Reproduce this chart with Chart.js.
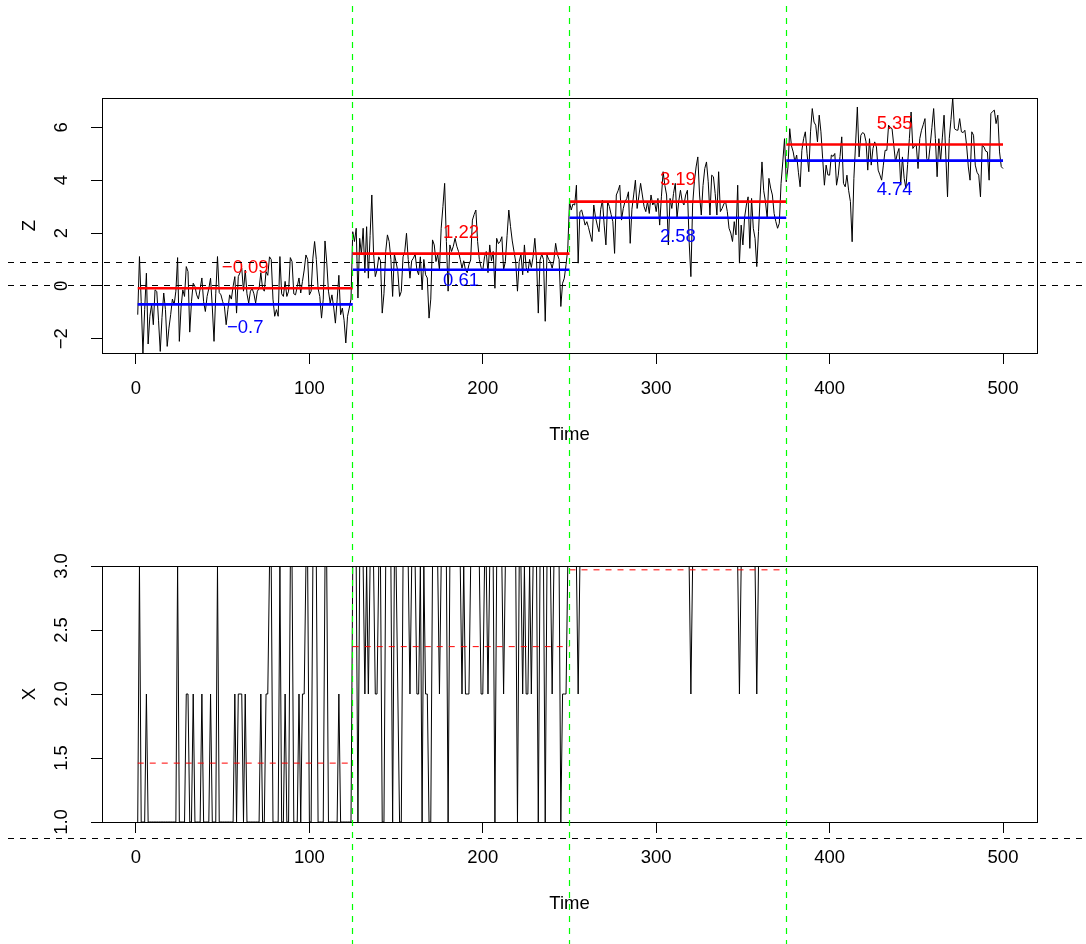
<!DOCTYPE html>
<html>
<head>
<meta charset="utf-8">
<title>Z and X over time</title>
<script src="https://cdn.jsdelivr.net/npm/chart.js@4.4.1/dist/chart.umd.min.js"></script>
<style>
  body { margin: 0; background: #fff; }
  #wrap { position: relative; width: 1086px; height: 944px; background: #fff; }
  canvas { position: absolute; left: 0; }
  #zChart { top: 0; }
  #xChart { top: 472px; }
</style>
</head>
<body>
<div id="wrap">
  <canvas id="zChart" width="1086" height="472"></canvas>
  <canvas id="xChart" width="1086" height="472"></canvas>
</div>
<script>
let zChart;
let xChart;

// -----------------------------
// DATA
// -----------------------------
const zValues = [
  -1.09, 1.11, -0.6, -2.54, -0.9, 0.48, -2.2, -1.15, -0.7, -1.47,
  -0.15, -0.21, -1.3, -2.48, -1.2, -0.27, -0.9, -2.29, -1.6, -1.09,
  -0.5, -0.71, -0.2, 1.07, -2.1, -0.8, -0.15, -0.4, 0.73, 0.54,
  -1.75, -0.6, 0.1, -0.02, -0.34, -0.5, -0.11, 0.3, -0.6, -0.97,
  -0.4, -0.1, 0.29, -0.8, -2.1, -0.3, 1.11, -0.25, -0.34, -0.6,
  -0.78, -1.47, -0.9, -0.34, -0.5, -0.02, 0.35, -1.03, 0.35, 0.5,
  0.67, -0.2, 0.6, -0.3, -0.65, -0.2, -0.1, -0.3, -0.65, -0.2,
  -0.1, 0.5, -0.09, -0.2, 0.54, 0.4, 1.1, 1.0, -0.5, -1.15,
  -0.9, -1.15, 1.11, -0.3, -0.4, 0.17, -0.4, -0.2, 1.07, 0.92,
  -0.3, -0.34, -0.02, 0.3, -0.27, 0.17, 0.6, 1.17, 1.0, -0.34,
  -0.2, 1.05, 1.68, 1.0, -0.1, -0.4, -1.22, -0.5, 1.7, 0.9,
  -0.2, -0.65, -0.34, -0.8, -1.41, -0.53, 0.4, -1.09, -0.84, -1.3,
  -2.16, -1.15, -0.84, -0.5,
  2.05, 1.68, 2.18, -0.46, 1.8, 1.2,
  2.18, 0.5, 2.24, 0.29, 1.9, 3.44, 1.24, 0.35, 0.6, 1.1,
  0.95, -1.03, -0.3, 1.3, 1.93, 1.68, 1.0, -0.4, 1.2, 0.9,
  0.54, -0.4, -0.21, 1.1, 1.3, 1.99, 1.0, 0.29, 0.95, 1.05,
  1.2, 0.6, 0.42, 1.1, -0.15, 1.0, 0.42, 0.3, -1.22, -0.5,
  1.74, 1.55, 0.92, 1.2, 0.6, 2.18, 3.0, 3.88, 1.68, -0.2,
  1.55, 1.3, 1.5, 1.8, 1.5, 1.3, 1.0, 0.67, 0.95, 0.6,
  0.5, 0.8, 0.98, 2.49, 2.7, 2.87, 1.68, 1.0, 0.7, 0.6,
  1.1, 1.3, 0.5, 1.55, 0.95, 1.3, -0.09, 1.8, 1.6, 1.68,
  1.86, 0.6, 0.92, 1.9, 2.87, 2.24, 1.7, 1.3, 0.9, -0.2,
  0.92, 1.2, 0.42, 1.55, 0.7, 0.5, 1.0, 0.7, 1.1, 1.8,
  0.95, -1.03, 0.98, 1.2, 1.0, -1.34, 1.17, 1.0, 0.9, 0.67,
  0.98, 1.61, 1.2, 1.0, -0.78, 0.1, 0.29, 0.8, 1.4,
  3.19, 2.87, 3.1, 3.06, 3.81, 0.86, 2.81, 2.87, 2.6, 2.3,
  2.43, 2.2, 1.93, 1.68, 3.06, 2.6, 2.3, 2.05, 2.9, 3.25,
  2.3, 1.55, 3.19, 3.0, 2.7, 2.43, 1.23, 3.44, 3.6, 3.81,
  2.49, 2.93, 3.19, 3.3, 3.56, 1.61, 2.9, 3.44, 4.0, 2.93,
  3.4, 3.88, 3.44, 3.0, 2.81, 3.19, 2.74, 3.44, 3.06, 3.2,
  2.81, 3.31, 2.3, 3.37, 4.32, 3.8, 3.44, 1.55, 3.31, 2.93,
  3.5, 3.88, 2.56, 3.2, 3.62, 3.19, 3.06, 3.44, 3.62, 1.68,
  0.35, 3.06, 3.94, 4.5, 4.88, 3.44, 2.68, 3.8, 4.44, 4.69,
  3.94, 2.68, 4.19, 4.13, 3.5, 2.68, 4.32, 2.81, 2.93, 3.1,
  3.19, 2.81, 2.18, 2.0, 1.68, 2.43, 1.93, 3.81, 0.86, 2.3,
  1.55, 2.6, 3.06, 3.37, 1.42, 3.31, 2.18, 1.8, 0.73, 2.05,
  3.44, 4.69, 3.6, 3.19, 2.56, 4.07, 3.7, 3.44, 2.74, 2.43,
  2.18, 2.37, 3.88, 4.69, 5.57,
  3.94, 4.5, 5.95, 5.3, 5.07, 4.69, 4.95, 4.3, 3.75, 5.13,
  5.57, 5.83, 5.0, 4.32, 5.83, 6.71, 6.2, 6.08, 5.45, 6.46,
  5.83, 4.82, 3.81, 4.57, 4.2, 4.19, 4.95, 4.9, 5.01, 3.81,
  4.19, 4.9, 5.64, 3.88, 3.75, 4.19, 3.6, 3.19, 1.67, 4.07,
  5.4, 6.77, 4.88, 5.7, 5.8, 5.76, 5.45, 4.38, 5.57, 4.57,
  5.2, 5.45, 5.26, 4.38, 4.2, 4.0, 4.57, 5.13, 5.13, 6.08,
  6.0, 5.95, 5.32, 4.69, 5.0, 5.2, 3.81, 4.88, 4.07, 3.69,
  4.6, 5.57, 6.58, 5.2, 5.3, 5.32, 4.44, 5.57, 5.89, 6.1,
  6.33, 4.82, 4.69, 5.32, 6.0, 6.71, 5.57, 4.13, 5.57, 4.69,
  5.6, 6.46, 4.95, 3.37, 5.57, 6.3, 7.11, 5.95, 5.9, 5.89,
  6.33, 5.83, 5.8, 5.89, 5.32, 4.5, 4.0, 5.83, 5.7, 4.57,
  4.3, 4.19, 3.37, 5.32, 5.26, 5.1, 5.07, 4.0, 6.52, 6.6,
  6.65, 6.14, 6.46, 5.07, 4.51, 4.44
];

const xStates = [
  1,3,1,1,1,2,1,1,1,1,1,1,1,1,1,1,1,1,1,1,1,1,1,3,1,
  1,1,1,2,2,1,1,2,1,1,1,1,2,1,1,1,1,2,1,1,1,3,1,1,1,
  1,1,1,1,1,1,2,1,2,2,2,1,2,1,1,1,1,1,1,1,1,2,1,1,2,
  2,3,3,1,1,1,1,3,1,1,2,1,1,3,3,1,1,1,2,1,2,2,3,3,1,
  1,3,3,3,1,1,1,1,3,3,1,1,1,1,1,1,2,1,1,1,1,1,1,1,3,
  3,3,1,3,3,3,2,3,2,3,3,3,2,2,3,3,1,1,3,3,3,3,1,3,3,
  2,1,1,3,3,3,3,2,3,3,3,2,2,3,1,3,2,2,1,1,3,3,3,3,2,
  3,3,3,3,1,3,3,3,3,3,3,3,2,3,2,2,2,3,3,3,3,3,3,2,2,
  3,3,2,3,3,3,1,3,3,3,3,2,3,3,3,3,3,3,3,1,3,3,2,3,2,
  2,3,2,3,3,3,1,3,3,3,1,3,3,3,2,3,3,3,3,1,2,2,2,3,3,
  3,3,3,3,2,3,3,3,3,3,3,3,3,3,3,3,3,3,3,3,3,3,3,3,3,
  3,3,3,3,3,3,3,3,3,3,3,3,3,3,3,3,3,3,3,3,3,3,3,3,3,
  3,3,3,3,3,3,3,3,3,3,3,3,3,3,3,3,3,3,3,2,3,3,3,3,3,
  3,3,3,3,3,3,3,3,3,3,3,3,3,3,3,3,3,3,3,3,3,3,2,3,3,
  3,3,3,3,3,3,3,2,3,3,3,3,3,3,3,3,3,3,3,3,3,3,3,3,3,
  3,3,3,3,3,3,3,3,3,3,3,3,3,3,3,3,3,3,3,3,3,3,3,3,3,
  3,3,3,3,3,3,3,3,3,3,3,3,3,3,3,3,3,3,3,3,3,3,3,3,3,
  3,3,3,3,3,3,3,3,3,3,3,3,3,3,3,3,3,3,3,3,3,3,3,3,3,
  3,3,3,3,3,3,3,3,3,3,3,3,3,3,3,3,3,3,3,3,3,3,3,3,3,
  3,3,3,3,3,3,3,3,3,3,3,3,3,3,3,3,3,3,3,3,3,3,3,3,3
];

const timeSteps = zValues.map((_, i) => i + 1);

// regimes: start / end time and per-regime levels
const segStart = [1, 125, 250, 375];
const segEnd = [125, 250, 375, 500];
const zMeanRed = [-0.09, 1.22, 3.19, 5.35];
const zMeanBlue = [-0.7, 0.61, 2.58, 4.74];
const xMean = [1.46, 2.37, 2.97, 3.0];

// reference lines
const hLines = [0, 0.87];
const vLines = [125, 250, 375];

// tick labels
const timeTicks = [0, 100, 200, 300, 400, 500];
const zTicks = [-2, 0, 2, 4, 6];
const xTicks = [1.0, 1.5, 2.0, 2.5, 3.0];

// where the level labels sit, in Z units from their line
const redLift = [0.76, 0.78, 0.81, 0.79];
const blueDrop = [0.9, 0.44, 0.72, 1.09];


// -----------------------------
// HELPERS
// -----------------------------
const FONT = '18.5px "Liberation Sans", Arial, sans-serif';
const GREEN = 'rgb(0, 255, 0)';

function minus(v) {
    return String(v).replace('-', '\u2212');
}

function toPoints(xs, ys) {
    return xs.map((x, i) => ({ x: x, y: ys[i] }));
}

// one flat piece per regime, broken by nulls
function levelPoints(levels) {
    const pts = [];
    levels.forEach((v, i) => {
        pts.push({ x: segStart[i], y: v });
        pts.push({ x: segEnd[i], y: v });
        pts.push({ x: segEnd[i], y: null });
    });
    return pts;
}

// crisp 1px position
function crisp(p) {
    return Math.floor(p) + 0.5;
}

// box, axes and ablines drawn in base-graphics style
function makeFrame(cfg) {
    return {
        id: 'frame_' + cfg.name,
        afterDraw(chart) {
            const ctx = chart.ctx;
            const a = chart.chartArea;
            const xs = chart.scales.x;
            const ys = chart.scales.y;
            const W = chart.width;
            const H = chart.height;

            ctx.save();
            ctx.strokeStyle = '#000';
            ctx.fillStyle = '#000';
            ctx.lineWidth = 1;
            ctx.setLineDash([]);

            // box
            ctx.strokeRect(Math.round(a.left) + 0.5, Math.round(a.top) + 0.5,
                Math.round(a.right - a.left), Math.round(a.bottom - a.top));

            // time axis
            ctx.beginPath();
            timeTicks.forEach(t => {
                const px = crisp(xs.getPixelForValue(t));
                ctx.moveTo(px, a.bottom);
                ctx.lineTo(px, a.bottom + 11);
            });
            ctx.stroke();

            ctx.font = FONT;
            ctx.textAlign = 'center';
            ctx.textBaseline = 'middle';
            timeTicks.forEach(t => {
                ctx.fillText(String(t), xs.getPixelForValue(t), a.bottom + 36);
            });
            ctx.fillText('Time', (a.left + a.right) / 2, a.bottom + 82);

            // value axis
            ctx.beginPath();
            cfg.ticks.forEach(v => {
                const py = crisp(ys.getPixelForValue(v));
                ctx.moveTo(a.left, py);
                ctx.lineTo(a.left - 11, py);
            });
            ctx.stroke();

            cfg.ticks.forEach(v => {
                ctx.save();
                ctx.translate(a.left - 40, ys.getPixelForValue(v));
                ctx.rotate(-Math.PI / 2);
                ctx.fillText(cfg.tickText(v), 0, 0);
                ctx.restore();
            });
            ctx.save();
            ctx.translate(30, (a.top + a.bottom) / 2);
            ctx.rotate(-Math.PI / 2);
            ctx.fillText(cfg.title, 0, 0);
            ctx.restore();

            // level labels
            if (cfg.levelLabels) {
                zMeanRed.forEach((v, i) => {
                    const mid = (segStart[i] + segEnd[i]) / 2;
                    ctx.fillStyle = '#ff0000';
                    ctx.fillText(minus(v), xs.getPixelForValue(mid), ys.getPixelForValue(v + redLift[i]));
                });
                zMeanBlue.forEach((v, i) => {
                    const mid = (segStart[i] + segEnd[i]) / 2;
                    ctx.fillStyle = '#0000ff';
                    ctx.fillText(minus(v), xs.getPixelForValue(mid), ys.getPixelForValue(v - blueDrop[i]));
                });
            }

            // horizontal thresholds, across the whole figure
            hLines.forEach(h => {
                const py = crisp(ys.getPixelForValue(h));
                if (py < 0 || py > H) return;
                ctx.strokeStyle = '#000000';
                ctx.setLineDash([6, 6]);
                ctx.beginPath();
                ctx.moveTo(8, py);
                ctx.lineTo(W, py);
                ctx.stroke();
            });

            // regime change points
            vLines.forEach(t => {
                const px = crisp(xs.getPixelForValue(t));
                ctx.strokeStyle = GREEN;
                ctx.lineWidth = 1.2;
                ctx.setLineDash([6, 6]);
                ctx.lineDashOffset = 0;
                ctx.beginPath();
                ctx.moveTo(px, cfg.guideTop);
                ctx.lineTo(px, H);
                ctx.stroke();
            });

            ctx.restore();
        }
    };
}

const baseOptions = {
    responsive: false,
    animation: false,
    events: [],
    plugins: { legend: { display: false }, tooltip: { enabled: false } },
    elements: { point: { radius: 0 }, line: { tension: 0 } }
};

const timeMin = -19.6;
const timeMax = 519.6;


// -----------------------------
// Z PANEL
// -----------------------------
zChart = new Chart(document.getElementById('zChart'), {
    type: 'line',
    data: {
        datasets: [
            { data: toPoints(timeSteps, zValues), borderColor: '#000000', borderWidth: 1, order: 3 },
            { data: levelPoints(zMeanRed), borderColor: '#ff0000', borderWidth: 2.6, order: 1 },
            { data: levelPoints(zMeanBlue), borderColor: '#0000ff', borderWidth: 2.6, order: 2 }
        ]
    },
    options: Object.assign({}, baseOptions, {
        layout: { padding: { left: 102, right: 49, top: 98, bottom: 119 } },
        scales: {
            x: { type: 'linear', min: timeMin, max: timeMax, display: false },
            y: { type: 'linear', min: Math.min(...zValues), max: Math.max(...zValues), display: false }
        }
    }),
    plugins: [makeFrame({
        name: 'z',
        ticks: zTicks,
        tickText: v => minus(v),
        title: 'Z',
        levelLabels: true,
        guideTop: 6
    })]
});


// -----------------------------
// X PANEL
// -----------------------------
xChart = new Chart(document.getElementById('xChart'), {
    type: 'line',
    data: {
        datasets: [
            { data: toPoints(timeSteps, xStates), borderColor: '#000000', borderWidth: 1, order: 2 },
            { data: levelPoints(xMean), borderColor: '#ff0000', borderWidth: 1, borderDash: [6, 6], order: 1 }
        ]
    },
    options: Object.assign({}, baseOptions, {
        layout: { padding: { left: 102, right: 49, top: 94, bottom: 122 } },
        scales: {
            x: { type: 'linear', min: timeMin, max: timeMax, display: false },
            y: { type: 'linear', min: Math.min(...xStates), max: Math.max(...xStates), display: false }
        }
    }),
    plugins: [makeFrame({
        name: 'x',
        ticks: xTicks,
        tickText: v => v.toFixed(1),
        title: 'X',
        levelLabels: false,
        guideTop: 0
    })]
});
</script>
</body>
</html>
